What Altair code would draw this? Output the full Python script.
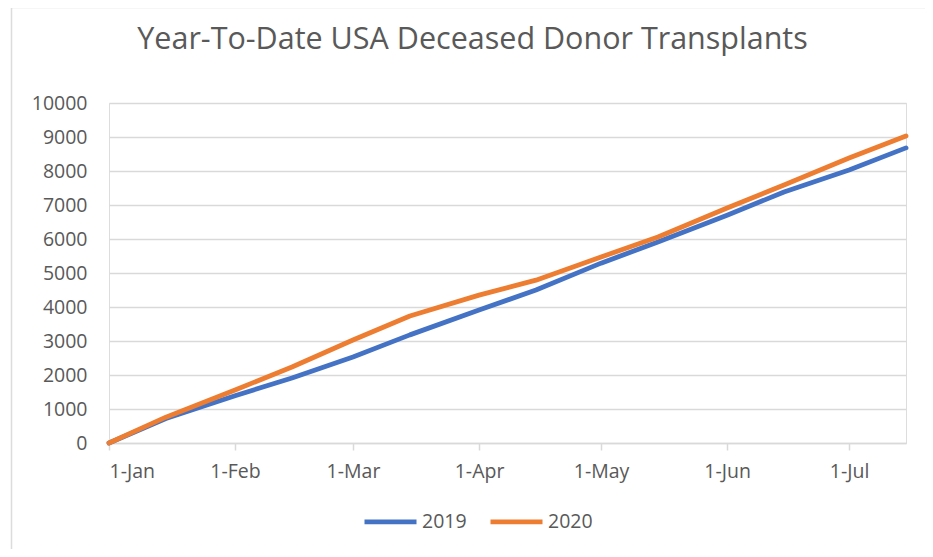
import altair as alt
import pandas as pd

dates = ["2020-01-01", "2020-01-15", "2020-02-01", "2020-02-15", "2020-03-01",
         "2020-03-15", "2020-04-01", "2020-04-15", "2020-05-01", "2020-05-15",
         "2020-06-01", "2020-06-15", "2020-07-01", "2020-07-15"]
values_2019 = [0, 720, 1390, 1910, 2530, 3180, 3910, 4500, 5290, 5910, 6700, 7380, 8030, 8680]
values_2020 = [0, 760, 1560, 2235, 3030, 3735, 4350, 4790, 5470, 6060, 6910, 7590, 8380, 9030]
series = ["2019", "2020"]
colors = ["#4472C4", "#ED7D31"]
tick_months = [1, 2, 3, 4, 5, 6, 7]

rows = []
for d, v in zip(dates, values_2019):
    rows.append({"date": d, "value": v, "series": "2019"})
for d, v in zip(dates, values_2020):
    rows.append({"date": d, "value": v, "series": "2020"})
df = pd.DataFrame(rows)

FONT = "Open Sans"
GRAY = "#595959"
GRID = "#D9D9D9"
LBL = 19.5

tick_vals = [alt.DateTime(year=2020, month=m, date=1, utc=True) for m in tick_months]

lines = alt.Chart(df).mark_line(strokeWidth=4.8, strokeCap="round", strokeJoin="round").encode(
    x=alt.X("date:T",
            scale=alt.Scale(type="utc",
                            domain=[alt.DateTime(year=2020, month=1, date=1, utc=True),
                                    alt.DateTime(year=2020, month=7, date=15, utc=True)]),
            axis=alt.Axis(title=None, values=tick_vals,
                          labelExpr="utcFormat(datum.value, '%-d-%b')",
                          grid=False, domainColor=GRID, domainWidth=1.5, tickColor=GRID,
                          tickSize=7, tickWidth=1.5, labelPadding=12, labelFont=FONT,
                          labelFontSize=LBL, labelColor=GRAY)),
    y=alt.Y("value:Q",
            scale=alt.Scale(domain=[0, 10000]),
            axis=alt.Axis(title=None, values=list(range(0, 10001, 1000)), format="d",
                          grid=True, gridColor=GRID, gridWidth=1.5, domain=False, ticks=False,
                          tickSize=0, labelPadding=22, labelFont=FONT, labelFontSize=LBL,
                          labelColor=GRAY)),
    color=alt.Color("series:N",
                    scale=alt.Scale(domain=series, range=colors),
                    legend=alt.Legend(title=None, orient="none", direction="horizontal",
                                      legendX=253, legendY=390, symbolType="stroke",
                                      symbolSize=2704, symbolStrokeWidth=4.8,
                                      labelOffset=3, columnPadding=13, labelFont=FONT,
                                      labelFontSize=LBL, labelColor=GRAY)),
)

frame_df = pd.DataFrame({"k": [0]})
border_left = alt.Chart(frame_df).mark_rule(color="#DCDCDC", strokeWidth=1.5).encode(
    x=alt.value(-97.5), y=alt.value(-95.5), y2=alt.value(460))
border_top = alt.Chart(frame_df).mark_rule(color="#DCDCDC", strokeWidth=1.5).encode(
    x=alt.value(-97.5), x2=alt.value(830), y=alt.value(-95.5))

chart = alt.layer(border_left, border_top, lines).properties(
    width=797,
    height=340,
    title=alt.TitleParams("Year-To-Date USA Deceased Donor Transplants", font=FONT,
                          fontSize=30.5, fontWeight="normal", color=GRAY, frame="group",
                          anchor="middle", dx=-35, dy=86, offset=13, baseline="alphabetic"),
    autosize=alt.AutoSizeParams(type="none"),
    padding={"left": 101, "top": 95, "right": 19, "bottom": 106},
).configure_view(stroke=None).configure(background="white")

chart.save("out.html", embed_options={"renderer": "svg", "actions": False})
